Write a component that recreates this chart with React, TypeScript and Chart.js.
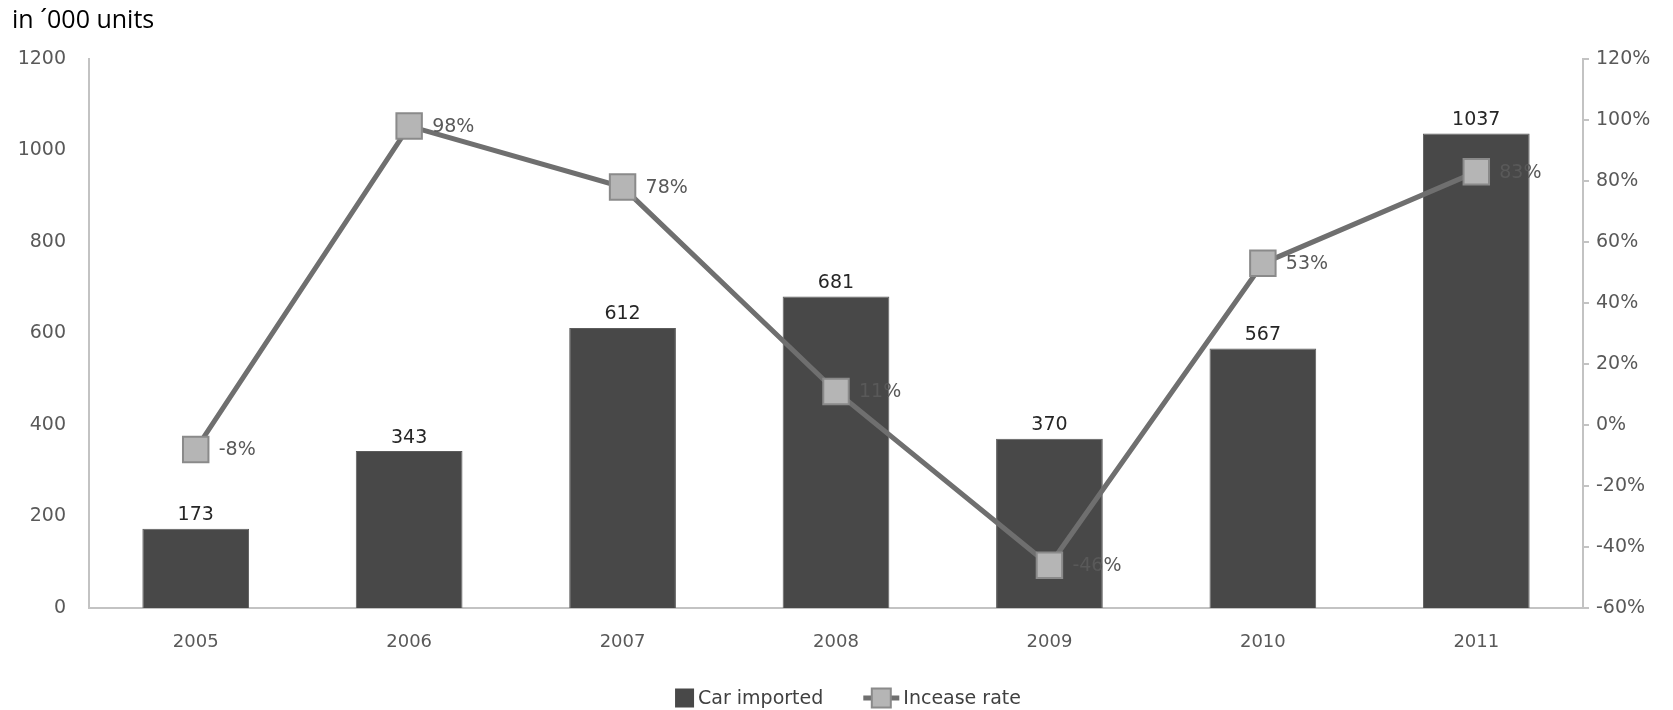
import React, { useEffect, useRef } from "react";
import { Chart, registerables } from "chart.js";

Chart.register(...registerables);

// Yearly car imports (thousand units) and the year-on-year increase rate (%)
const years = ["2005", "2006", "2007", "2008", "2009", "2010", "2011"];
const carsImported = [173, 343, 612, 681, 370, 567, 1037];
const increaseRate = [-8, 98, 78, 11, -46, 53, 83];

const leftTicks = { min: 0, max: 1200, step: 200 };
const rightTicks = { min: -60, max: 120, step: 20 };

const unitTitle = "in ´000 units";
const barLabel = "Car imported";
const lineLabel = "Incease rate";

const FONT = "'DejaVu Sans', sans-serif";
const BAR_FILL = "#484848";
const BAR_EDGE = "#5c5c5c";
const LINE_COLOR = "#6f6f6f";
const MARKER_FILL = "#b5b5b5";
const MARKER_EDGE = "#8a8a8a";
const AXIS_COLOR = "#c3c3c3";
const TICK_TEXT = "#595959";

const W = 1673;
const H = 710;

// Value labels, unit caption and a hand-drawn legend
const annotations = {
  id: "annotations",
  afterDatasetsDraw(chart: any) {
    const { ctx } = chart;
    ctx.save();
    // bar values above each bar
    const barMeta = chart.getDatasetMeta(1);
    ctx.font = `19px ${FONT}`;
    ctx.fillStyle = "#262626";
    ctx.textAlign = "center";
    ctx.textBaseline = "bottom";
    barMeta.data.forEach((el: any, i: number) => {
      ctx.fillText(String(carsImported[i]), el.x, el.y - 4);
    });
    // rate labels to the right of each marker
    const lineMeta = chart.getDatasetMeta(0);
    ctx.fillStyle = TICK_TEXT;
    ctx.textAlign = "left";
    ctx.textBaseline = "middle";
    lineMeta.data.forEach((el: any, i: number) => {
      ctx.fillText(`${increaseRate[i]}%`, el.x + 23, el.y + 1);
    });
    ctx.restore();
  },
  afterDraw(chart: any) {
    const { ctx } = chart;
    ctx.save();
    // unit caption
    ctx.font = `25px 'Open Sans', sans-serif`;
    ctx.fillStyle = "#000";
    ctx.textAlign = "left";
    ctx.textBaseline = "middle";
    ctx.fillText(unitTitle, 12, 21);

    // legend
    ctx.font = `19px ${FONT}`;
    const w1 = ctx.measureText(barLabel).width;
    const w2 = ctx.measureText(lineLabel).width;
    const box = 19;
    const lineLen = 36;
    const gap = 4;
    const spacing = 40;
    const total = box + gap + w1 + spacing + lineLen + gap + w2;
    const cx = 848;
    let x = cx - total / 2;
    const y = 698;
    ctx.fillStyle = BAR_FILL;
    ctx.fillRect(x, y - box / 2, box, box);
    x += box + gap;
    ctx.fillStyle = "#404040";
    ctx.textBaseline = "middle";
    ctx.fillText(barLabel, x, y + 1);
    x += w1 + spacing;
    ctx.strokeStyle = LINE_COLOR;
    ctx.lineWidth = 5;
    ctx.beginPath();
    ctx.moveTo(x, y);
    ctx.lineTo(x + lineLen, y);
    ctx.stroke();
    const m = 19;
    ctx.fillStyle = MARKER_FILL;
    ctx.strokeStyle = MARKER_EDGE;
    ctx.lineWidth = 2;
    ctx.fillRect(x + lineLen / 2 - m / 2, y - m / 2, m, m);
    ctx.strokeRect(x + lineLen / 2 - m / 2, y - m / 2, m, m);
    x += lineLen + gap;
    ctx.fillStyle = "#404040";
    ctx.fillText(lineLabel, x, y + 1);
    ctx.restore();
  },
};

export default function App() {
  const canvasRef = useRef<HTMLCanvasElement | null>(null);

  useEffect(() => {
    if (!canvasRef.current) return;
    const chart = new Chart(canvasRef.current, {
      type: "bar",
      data: {
        labels: years,
        datasets: [
          {
            type: "line",
            label: lineLabel,
            data: increaseRate,
            yAxisID: "yRate",
            borderColor: LINE_COLOR,
            borderWidth: 5,
            pointStyle: "rect",
            pointRadius: 18,
            pointBackgroundColor: MARKER_FILL,
            pointBorderColor: MARKER_EDGE,
            pointBorderWidth: 2,
            tension: 0,
            order: 0,
          } as any,
          {
            type: "bar",
            label: barLabel,
            data: carsImported,
            yAxisID: "yUnits",
            backgroundColor: BAR_FILL,
            borderColor: BAR_EDGE,
            borderWidth: 1,
            categoryPercentage: 1,
            barPercentage: 0.5,
            order: 1,
          },
        ],
      },
      options: {
        responsive: false,
        animation: false,
        layout: { padding: { left: 0, right: 0, top: 59, bottom: 52 } },
        plugins: {
          legend: { display: false },
          tooltip: { enabled: false },
          title: { display: false },
        },
        scales: {
          x: {
            grid: { display: false },
            border: { display: true, color: AXIS_COLOR, width: 2 },
            ticks: { color: TICK_TEXT, font: { family: FONT, size: 18 }, padding: 16 },
            afterFit(scale: any) {
              scale.height = 50;
            },
          },
          yUnits: {
            position: "left",
            min: leftTicks.min,
            max: leftTicks.max,
            grid: { display: false },
            border: { display: true, color: AXIS_COLOR, width: 2 },
            ticks: {
              stepSize: leftTicks.step,
              color: TICK_TEXT,
              font: { family: FONT, size: 19 },
              padding: 15,
              callback: (v: any) => String(v),
            },
            afterFit(scale: any) {
              scale.width = 89;
            },
          },
          yRate: {
            position: "right",
            min: rightTicks.min,
            max: rightTicks.max,
            grid: {
              drawOnChartArea: false,
              drawTicks: true,
              tickLength: 6,
              color: AXIS_COLOR,
              lineWidth: 2,
            },
            border: { display: true, color: AXIS_COLOR, width: 2 },
            ticks: {
              stepSize: rightTicks.step,
              color: TICK_TEXT,
              font: { family: FONT, size: 19 },
              padding: 7,
              callback: (v: any) => `${v}%`,
            },
            afterFit(scale: any) {
              scale.width = 90;
            },
          },
        },
      },
      plugins: [annotations],
    });
    return () => chart.destroy();
  }, []);

  return (
    <div style={{ position: "absolute", left: 0, top: 0, width: W, height: H, background: "#fff" }}>
      <canvas ref={canvasRef} width={W} height={H} style={{ display: "block" }} />
    </div>
  );
}
